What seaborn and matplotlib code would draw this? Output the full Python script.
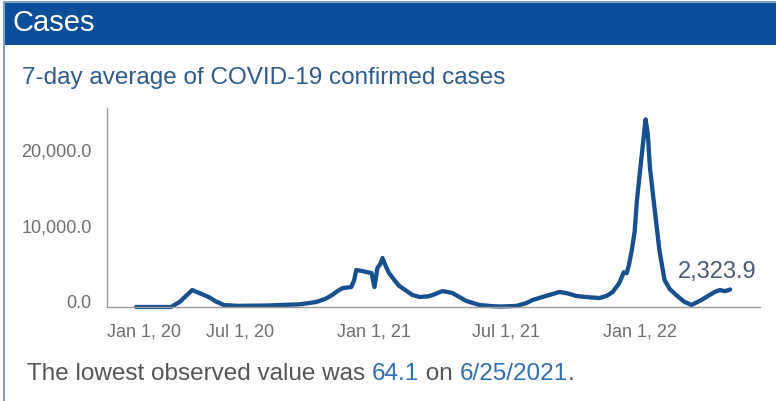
import pandas as pd
import matplotlib
matplotlib.use("Agg")
import matplotlib.pyplot as plt
import matplotlib.transforms as mtransforms
from matplotlib.patches import Rectangle
from matplotlib.lines import Line2D
import seaborn as sns

# DATA
dates = [
    "2020-02-10", "2020-03-29", "2020-04-10", "2020-04-27", "2020-05-08",
    "2020-05-20", "2020-05-30", "2020-06-10", "2020-06-29", "2020-08-08",
    "2020-09-21", "2020-10-14", "2020-10-27", "2020-11-05", "2020-11-12",
    "2020-11-19", "2020-12-01", "2020-12-05", "2020-12-08", "2020-12-15",
    "2020-12-22", "2020-12-29", "2021-01-02", "2021-01-06", "2021-01-10",
    "2021-01-13", "2021-01-18", "2021-01-22", "2021-01-29", "2021-02-05",
    "2021-02-14", "2021-02-23", "2021-03-05", "2021-03-16", "2021-03-23",
    "2021-04-05", "2021-04-12", "2021-04-19", "2021-04-29", "2021-05-08",
    "2021-05-26", "2021-06-14", "2021-06-25", "2021-07-16", "2021-07-29",
    "2021-08-07", "2021-08-23", "2021-09-13", "2021-09-24", "2021-10-06",
    "2021-10-22", "2021-11-07", "2021-11-17", "2021-11-25", "2021-12-04",
    "2021-12-10", "2021-12-14", "2021-12-17", "2021-12-21", "2021-12-25",
    "2021-12-28", "2022-01-03", "2022-01-09", "2022-01-12", "2022-01-15",
    "2022-01-20", "2022-01-28", "2022-02-04", "2022-02-11", "2022-02-21",
    "2022-03-03", "2022-03-13", "2022-03-26", "2022-04-07", "2022-04-14",
    "2022-04-21", "2022-04-28", "2022-05-05",
]
cases = [
    0, 0, 700, 2250, 1800,
    1300, 700, 250, 150, 200,
    350, 660, 1100, 1600, 2100,
    2500, 2650, 3500, 4900, 4800,
    4640, 4500, 2650, 5170, 5700,
    6500, 5300, 4500, 3600, 2800,
    2200, 1600, 1330, 1400, 1600,
    2100, 2000, 1850, 1300, 800,
    265, 100, 64.1, 150, 500,
    930, 1400, 2000, 1800, 1460,
    1300, 1190, 1500, 2000, 3200,
    4600, 4500, 5500, 7500, 10000,
    14000, 19500, 24900, 23000, 18500,
    14200, 7500, 3600, 2400, 1500,
    700, 270, 900, 1600, 2000,
    2250, 2100, 2323.9,
]

y_ticks = [0, 10000, 20000]
y_tick_labels = ["0.0", "10,000.0", "20,000.0"]
x_ticks = ["2020-01-01", "2020-07-01", "2021-01-01", "2021-07-01", "2022-01-01"]
x_tick_labels = ["Jan 1, 20", "Jul 1, 20", "Jan 1, 21", "Jul 1, 21", "Jan 1, 22"]

title = "Cases"
subtitle = "7-day average of COVID-19 confirmed cases"
last_label = "2,323.9"
lowest_value = "64.1"
lowest_date = "6/25/2021"

df = pd.DataFrame({"date": pd.to_datetime(dates), "cases": cases})

# STYLE
sns.set_style("white")
plt.rcParams["font.family"] = ["Liberation Sans", "DejaVu Sans"]

LINE_COLOR = "#17508f"
HEADER_COLOR = "#0b4f9b"
GREY = "#6e6e6e"
BLUE_TEXT = "#2d5b8a"
LINK_BLUE = "#2f6fb3"

W, H = 776, 401
fig = plt.figure(figsize=(W / 100, H / 100), dpi=100)

# header band + panel border
fig.patches.append(Rectangle((4 / W, 1 - 45 / H), 1, 43 / H, transform=fig.transFigure,
                             facecolor=HEADER_COLOR, edgecolor="none", zorder=0))
fig.lines.append(Line2D([4 / W, 4 / W], [0, 1 - 2 / H], transform=fig.transFigure,
                        color="#7fa3c8", lw=1.5))
fig.lines.append(Line2D([4 / W, 1], [1 - 2 / H, 1 - 2 / H], transform=fig.transFigure,
                        color="#7fa3c8", lw=1.5))

fig.text(12 / W, 1 - 23 / H, title, color="white", fontsize=21, va="center", ha="left")
fig.text(22 / W, 1 - 78 / H, subtitle, color=BLUE_TEXT, fontsize=17.5, va="center", ha="left")

# CHART
ax = fig.add_axes([107 / W, 94 / H, 653 / W, 199 / H])
sns.lineplot(data=df, x="date", y="cases", ax=ax, color=LINE_COLOR, lw=3.1,
             clip_on=False, solid_capstyle="round", solid_joinstyle="round")

ax.set_ylim(0, 26400)
ax.set_xlim(pd.Timestamp("2020-01-01"), pd.Timestamp("2022-06-15"))

ax.set_yticks(y_ticks)
ax.set_yticklabels(y_tick_labels)
ax.set_xticks(pd.to_datetime(x_ticks))
ax.set_xticklabels(x_tick_labels)
ax.tick_params(axis="both", length=0, labelsize=13, labelcolor=GREY)
ax.tick_params(axis="y", pad=11)
ax.tick_params(axis="x", pad=12)
ax.set_xlabel("")
ax.set_ylabel("")

# y labels sit slightly above their values
up = mtransforms.ScaledTranslation(0, 6 / 100, fig.dpi_scale_trans)
for lbl in ax.get_yticklabels():
    lbl.set_transform(lbl.get_transform() + up)
# first date label is aligned to the axis start
ax.get_xticklabels()[0].set_horizontalalignment("left")

for side in ["top", "right"]:
    ax.spines[side].set_visible(False)
for side in ["left", "bottom"]:
    ax.spines[side].set_color("#9a9a9a")
    ax.spines[side].set_linewidth(1.0)

# label at the last point
ax.annotate(last_label, xy=(df["date"].iloc[-1], df["cases"].iloc[-1]),
            xytext=(-13, 17), textcoords="offset pixels", ha="center", va="center",
            fontsize=17, color="#4b5b70")

# FOOTER (mixed colours, placed one after another)
parts = [
    ("The lowest observed value was ", "#555555"),
    (lowest_value, LINK_BLUE),
    (" on ", "#555555"),
    (lowest_date, LINK_BLUE),
    (".", "#555555"),
]
renderer = fig.canvas.get_renderer()
x = 27
for part, color in parts:
    t = fig.text(x / W, 1 - 380 / H, part, color=color, fontsize=17.5,
                 ha="left", va="baseline")
    x += t.get_window_extent(renderer).width

fig.savefig("out.png", dpi=100, facecolor="white")
